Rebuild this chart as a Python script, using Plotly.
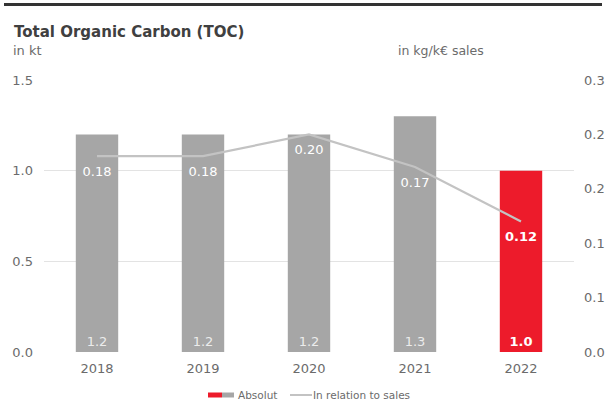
import plotly.graph_objects as go

years = ["2018", "2019", "2020", "2021", "2022"]
absolute_kt = [1.2, 1.2, 1.2, 1.3, 1.0]
relation_sales = [0.18, 0.18, 0.20, 0.17, 0.12]
left_ticks = [0.0, 0.5, 1.0, 1.5]
right_ticks = [0.0, 0.05, 0.10, 0.15, 0.20, 0.25]
right_tick_labels = ["0.0", "0.1", "0.1", "0.2", "0.2", "0.3"]

GRAY = "#a6a6a6"
RED = "#ed1b2b"
LINE = "#c3c3c3"
TXT = "#6b6b6b"
FONT = "DejaVu Sans"

bar_colors = [GRAY] * (len(years) - 1) + [RED]
bar_text = [f"{v:.1f}" for v in absolute_kt]
bar_text = bar_text[:-1] + [f"<b>{bar_text[-1]}</b>"]
bar_text_colors = ["#ececec"] * (len(years) - 1) + ["#ffffff"]

line_text = [f"{v:.2f}" for v in relation_sales]
line_text = line_text[:-1] + [f"<b>{line_text[-1]}</b>"]

fig = go.Figure()
fig.add_trace(go.Bar(
    x=years, y=absolute_kt, marker=dict(color=bar_colors, line=dict(width=0)),
    text=bar_text, textposition="inside", insidetextanchor="start",
    textfont=dict(family=FONT, size=13, color=bar_text_colors),
    textangle=0, showlegend=False, hoverinfo="skip", cliponaxis=False,
))
fig.add_trace(go.Scatter(
    x=years, y=relation_sales, yaxis="y2", mode="lines+markers+text",
    line=dict(color=LINE, width=2.2),
    marker=dict(size=14, color="rgba(0,0,0,0)"),
    text=line_text, textposition="bottom center",
    textfont=dict(family=FONT, size=13, color="#ffffff"),
    showlegend=False, hoverinfo="skip", cliponaxis=False,
))

fig.update_layout(
    width=608, height=403,
    margin=dict(l=44, r=34, t=80, b=51, autoexpand=False),
    paper_bgcolor="white", plot_bgcolor="white",
    font=dict(family=FONT, color=TXT, size=13),
    bargap=0.6,
    xaxis=dict(showgrid=False, showline=False, zeroline=False, ticks="", automargin=False,
               tickfont=dict(size=13, color=TXT), ticklabelstandoff=7),
    yaxis=dict(range=[0, 1.5], tickvals=left_ticks, tickformat=".1f", automargin=False,
               showgrid=True, gridcolor="#e3e3e3", gridwidth=1, zeroline=False,
               showline=False, ticks="", tickfont=dict(size=13, color=TXT),
               ticklabelstandoff=10),
    yaxis2=dict(range=[0, 0.25], overlaying="y", side="right", automargin=False,
                tickvals=right_ticks, ticktext=right_tick_labels,
                showgrid=False, zeroline=False, showline=False, ticks="",
                tickfont=dict(size=13, color=TXT), ticklabelstandoff=9),
    showlegend=False,
)


def py(ypix):
    return (352 - ypix) / 272


def px(xpix):
    return (xpix - 44) / 530


# top rule
fig.add_shape(type="line", xref="paper", yref="paper",
              x0=px(4), x1=px(602), y0=py(4.5), y1=py(4.5),
              line=dict(color="#333333", width=3))

fig.add_annotation(x=px(12), y=py(32), xref="paper", yref="paper", xanchor="left", yanchor="middle",
                   text="<b>Total Organic Carbon (TOC)</b>", showarrow=False,
                   font=dict(family=FONT, size=15, color="#404040"))
fig.add_annotation(x=px(11), y=py(51), xref="paper", yref="paper", xanchor="left", yanchor="middle",
                   text="in kt", showarrow=False, font=dict(family=FONT, size=13, color=TXT))
fig.add_annotation(x=px(396), y=py(51), xref="paper", yref="paper", xanchor="left", yanchor="middle",
                   text="in kg/k€ sales", showarrow=False, font=dict(family=FONT, size=12.5, color=TXT))

# custom legend
fig.add_shape(type="rect", xref="paper", yref="paper", x0=px(208), x1=px(222), y0=py(397.5), y1=py(392.5),
              fillcolor=RED, line=dict(width=0))
fig.add_shape(type="rect", xref="paper", yref="paper", x0=px(222), x1=px(234), y0=py(397.5), y1=py(392.5),
              fillcolor=GRAY, line=dict(width=0))
fig.add_annotation(x=px(236), y=py(394.5), xref="paper", yref="paper", xanchor="left", yanchor="middle",
                   text="Absolut", showarrow=False, font=dict(family=FONT, size=10.5, color=TXT))
fig.add_shape(type="line", xref="paper", yref="paper", x0=px(290), x1=px(312), y0=py(395), y1=py(395),
              line=dict(color=LINE, width=2))
fig.add_annotation(x=px(311), y=py(394.5), xref="paper", yref="paper", xanchor="left", yanchor="middle",
                   text="In relation to sales", showarrow=False, font=dict(family=FONT, size=10.5, color=TXT))

fig.write_html("out.html", config={"displayModeBar": False},
               post_script="document.body.style.margin='0';document.body.style.overflow='hidden';")
